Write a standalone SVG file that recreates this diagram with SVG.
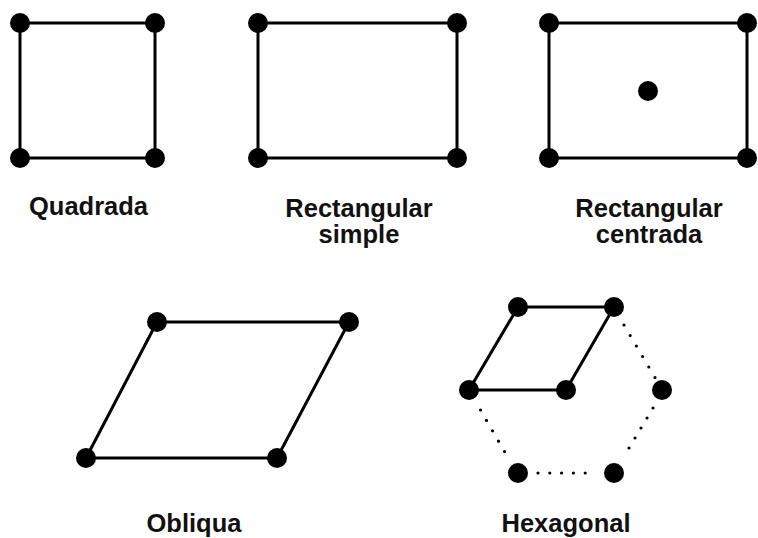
<svg xmlns="http://www.w3.org/2000/svg" width="758" height="538" viewBox="0 0 758 538">
<style>
.e{stroke:#000;stroke-width:3;fill:none;stroke-linecap:round}
.d{stroke:#000;stroke-width:3.2;fill:none;stroke-linecap:round;stroke-dasharray:0 1}
.n{fill:#000}
.t{font-family:"Liberation Sans",Arial,sans-serif;font-weight:bold;font-size:25.5px;fill:#111;text-anchor:middle}
</style>
<rect width="758" height="538" fill="#fff"/>
<g id="connectors">
<polygon class="e" points="20,23 155,23 155,158 20,158"/>
<polygon class="e" points="258,23 457,23 457,158 258,158"/>
<polygon class="e" points="549,23 747,23 747,158 549,158"/>
<polygon class="e" points="157,322 349,322 277,458 86,458"/>
<polygon class="e" points="518,307 614,307 566,390 469,390"/>
<path class="d" pathLength="5" d="M624,325 L655,377.5"/>
<path class="d" pathLength="5" d="M653,408 L623,458"/>
<path class="d" pathLength="5" d="M538,473 L597,473"/>
<path class="d" pathLength="5" d="M480.5,410 L510.5,462"/>
</g>
<g id="quadrada">
<circle class="n" cx="20" cy="23" r="10"/><circle class="n" cx="155" cy="23" r="10"/>
<circle class="n" cx="20" cy="158" r="10"/><circle class="n" cx="155" cy="158" r="10"/>
<text class="t" x="88.5" y="215">Quadrada</text>
</g>
<g id="rect-simple">
<circle class="n" cx="258" cy="23" r="10"/><circle class="n" cx="457" cy="23" r="10"/>
<circle class="n" cx="258" cy="158" r="10"/><circle class="n" cx="457" cy="158" r="10"/>
<text class="t" x="359" y="217">Rectangular</text>
<text class="t" x="359" y="243">simple</text>
</g>
<g id="rect-centrada">
<circle class="n" cx="549" cy="23" r="10"/><circle class="n" cx="747" cy="23" r="10"/>
<circle class="n" cx="549" cy="158" r="10"/><circle class="n" cx="747" cy="158" r="10"/>
<circle class="n" cx="648" cy="91" r="10"/>
<text class="t" x="649" y="217">Rectangular</text>
<text class="t" x="649" y="243">centrada</text>
</g>
<g id="obliqua">
<circle class="n" cx="157" cy="322" r="10"/><circle class="n" cx="349" cy="322" r="10"/>
<circle class="n" cx="86" cy="458" r="10"/><circle class="n" cx="277" cy="458" r="10"/>
<text class="t" x="194" y="532">Obliqua</text>
</g>
<g id="hexagonal">
<circle class="n" cx="518" cy="307" r="10"/><circle class="n" cx="614" cy="307" r="10"/>
<circle class="n" cx="469" cy="390" r="10"/><circle class="n" cx="566" cy="390" r="10"/>
<circle class="n" cx="662" cy="390" r="10"/>
<circle class="n" cx="518" cy="473" r="10"/><circle class="n" cx="614" cy="473" r="10"/>
<text class="t" x="566" y="532">Hexagonal</text>
</g>
</svg>
